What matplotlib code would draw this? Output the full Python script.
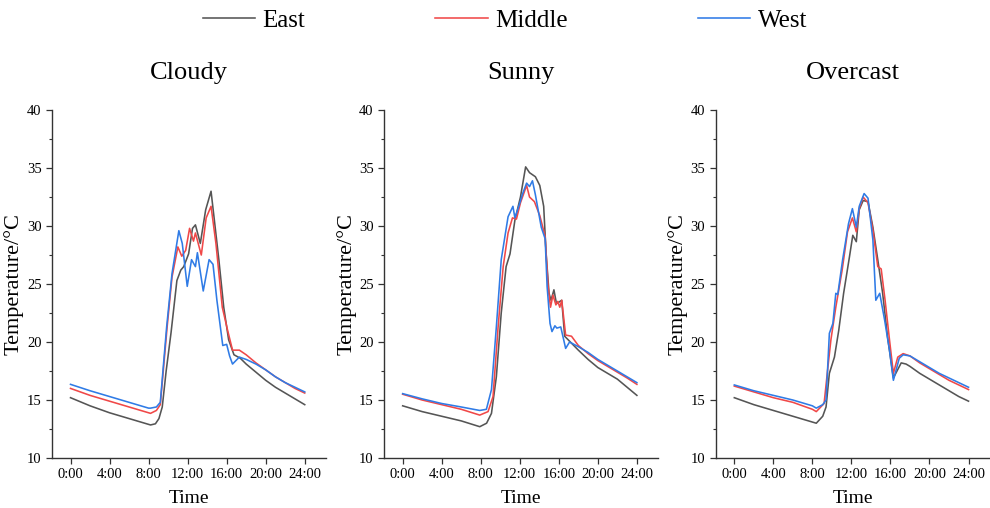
import matplotlib
matplotlib.use("Agg")
import matplotlib.pyplot as plt
from matplotlib.ticker import MultipleLocator, FixedLocator

plt.rcParams['font.family'] = ['Liberation Serif', 'DejaVu Serif']

# ---- data (hour of day, temperature in degC) ----
titles = ["Cloudy", "Sunny", "Overcast"]
series_names = ["East", "Middle", "West"]
tick_hours = [0, 4, 8, 12, 16, 20, 24]
tick_labels = ["0:00", "4:00", "8:00", "12:00", "16:00", "20:00", "24:00"]

# Cloudy
cloudy_east_t = [0, 2, 4, 6, 8, 8.2, 8.7, 9.06, 9.4, 9.8, 10.3, 10.9, 11.3, 11.6, 12.1, 12.5, 12.8, 13.3,
                 13.85, 14.4, 14.7, 15.2, 15.7, 16.2, 16.75, 17.4, 18, 19, 20, 21, 22, 23, 24]
cloudy_east = [15.2, 14.5, 13.9, 13.4, 12.9, 12.85, 12.95, 13.4, 14.4, 17.5, 20.8, 25.3, 26.2, 26.5, 27.6, 29.8,
               30.1, 28.5, 31.4, 33.0, 30.8, 27.1, 23.0, 20.2, 18.9, 18.6, 18.1, 17.4, 16.7, 16.1, 15.6, 15.1, 14.6]
cloudy_mid_t = [0, 2, 4, 6, 8, 8.2, 8.8, 9.2, 9.9, 10.4, 11.0, 11.4, 11.8, 12.2, 12.6, 12.8, 13.4, 13.9,
                14.4, 14.9, 15.55, 16.1, 16.6, 17.3, 18, 19, 19.5, 20, 21, 22, 23, 24]
cloudy_mid = [16.0, 15.4, 14.9, 14.4, 13.9, 13.85, 14.1, 14.6, 21.3, 25.6, 28.2, 27.4, 27.9, 29.8, 28.7, 29.4,
              27.5, 30.7, 31.7, 28.5, 23.0, 21.0, 19.3, 19.3, 18.9, 18.2, 17.9, 17.6, 17.0, 16.5, 16.0, 15.6]
cloudy_west_t = [0, 2, 4, 6, 8, 8.2, 8.8, 9.2, 9.85, 10.4, 11.1, 11.45, 11.96, 12.4, 12.8, 13.0, 13.6, 14.2,
                 14.6, 15.0, 15.6, 16.0, 16.3, 16.6, 17.3, 18, 19, 20, 21, 22, 23, 24]
cloudy_west = [16.35, 15.8, 15.3, 14.8, 14.3, 14.3, 14.4, 14.8, 21.3, 25.9, 29.6, 28.5, 24.8, 27.1, 26.5, 27.7,
               24.4, 27.1, 26.7, 23.6, 19.7, 19.8, 18.8, 18.1, 18.7, 18.5, 18.1, 17.6, 17.0, 16.5, 16.1, 15.7]

# Sunny
sunny_east_t = [0, 2, 4, 6, 7.9, 8.6, 9.1, 9.6, 10.1, 10.6, 11.0, 11.5, 12.07, 12.6, 13.0, 13.6, 14.05, 14.45,
                14.7, 15.0, 15.2, 15.5, 15.76, 16.3, 16.6, 17.3, 18, 19, 20, 21, 22, 23, 24]
sunny_east = [14.5, 14.0, 13.6, 13.2, 12.7, 13.0, 13.85, 17.0, 22.5, 26.5, 27.6, 30.5, 32.5, 35.1, 34.6, 34.25,
              33.5, 31.7, 27.6, 24.2, 23.6, 24.5, 23.3, 23.6, 20.5, 19.9, 19.3, 18.5, 17.8, 17.3, 16.8, 16.1, 15.4]
sunny_mid_t = [0, 2, 4, 6, 7.9, 8.75, 9.26, 9.78, 10.3, 10.8, 11.25, 11.66, 12.07, 12.7, 13.0, 13.5, 14.05,
               14.6, 14.9, 15.15, 15.4, 15.7, 15.9, 16.1, 16.3, 16.7, 17.3, 18, 19, 20, 21, 22, 23, 24]
sunny_mid = [15.5, 15.0, 14.6, 14.2, 13.7, 14.0, 15.3, 21.3, 26.5, 29.4, 30.7, 30.6, 32.0, 33.5, 32.5, 32.1,
             30.9, 29.1, 24.8, 23.0, 24.05, 23.2, 23.5, 23.0, 23.6, 20.6, 20.5, 19.7, 19.0, 18.4, 17.9, 17.4,
             16.9, 16.35]
sunny_west_t = [0, 2, 4, 6, 7.9, 8.58, 9.1, 9.6, 10.1, 10.8, 11.3, 11.5, 11.9, 12.3, 12.7, 13.0, 13.3, 13.6,
                14.2, 14.6, 14.8, 15.1, 15.3, 15.6, 15.8, 16.2, 16.7, 17.1, 18, 19, 20, 21, 22, 23, 24]
sunny_west = [15.55, 15.1, 14.7, 14.4, 14.1, 14.2, 15.9, 21.3, 27.1, 30.8, 31.7, 30.7, 31.7, 32.8, 33.7, 33.4,
              33.9, 32.7, 29.9, 28.9, 24.8, 21.6, 20.9, 21.4, 21.2, 21.3, 19.45, 20.0, 19.6, 19.1, 18.5, 18.0,
              17.5, 17.0, 16.5]

# Overcast
overcast_east_t = [0, 2, 4, 6, 8, 8.4, 9.06, 9.4, 9.74, 10.26, 10.7, 11.2, 11.8, 12.14, 12.5, 12.8, 13.2,
                   13.7, 14.2, 14.7, 15.2, 15.7, 16.3, 17.1, 17.6, 18, 19, 20, 21, 22, 23, 24]
overcast_east = [15.2, 14.6, 14.1, 13.6, 13.1, 13.0, 13.6, 14.4, 17.3, 18.7, 21.0, 24.2, 27.35, 29.2, 28.65,
                 31.4, 32.2, 32.1, 29.9, 27.1, 24.2, 20.45, 16.9, 18.2, 18.1, 17.9, 17.3, 16.8, 16.3, 15.8,
                 15.3, 14.9]
overcast_mid_t = [0, 2, 4, 6, 8, 8.4, 9.2, 9.6, 9.9, 10.4, 11.05, 11.6, 12.1, 12.5, 12.8, 13.2, 13.7, 14.2,
                  14.7, 15.05, 15.45, 15.9, 16.3, 16.75, 17.3, 18, 19, 20, 21, 22, 23, 24]
overcast_mid = [16.2, 15.7, 15.2, 14.8, 14.2, 14.0, 14.7, 17.9, 20.2, 23.0, 26.2, 29.5, 30.7, 29.5, 31.5, 32.5,
                32.0, 29.65, 26.5, 26.3, 23.6, 20.2, 17.3, 18.7, 19.0, 18.8, 18.2, 17.7, 17.2, 16.7, 16.3, 15.9]
overcast_west_t = [0, 2, 4, 6, 8, 8.4, 9.06, 9.4, 9.74, 10.1, 10.4, 10.6, 11.1, 11.7, 12.1, 12.5, 12.8, 13.3,
                   13.7, 14.2, 14.5, 14.9, 15.4, 15.9, 16.3, 16.9, 17.3, 18, 19, 20, 21, 22, 23, 24]
overcast_west = [16.3, 15.8, 15.4, 15.0, 14.5, 14.3, 14.6, 15.0, 20.75, 21.6, 24.2, 24.1, 27.1, 30.2, 31.5,
                 29.9, 31.7, 32.8, 32.4, 28.8, 23.6, 24.2, 21.9, 19.3, 16.7, 18.6, 18.9, 18.8, 18.3, 17.8, 17.3,
                 16.9, 16.5, 16.1]

panels = [
    [(cloudy_east_t, cloudy_east), (cloudy_mid_t, cloudy_mid), (cloudy_west_t, cloudy_west)],
    [(sunny_east_t, sunny_east), (sunny_mid_t, sunny_mid), (sunny_west_t, sunny_west)],
    [(overcast_east_t, overcast_east), (overcast_mid_t, overcast_mid), (overcast_west_t, overcast_west)],
]
colors = ["#555555", "#f04848", "#2f7be6"]

fig = plt.figure(figsize=(9.9, 5.08), dpi=100)
lefts = [0.0525, 0.388, 0.723]
handles = []
for i, (left, title, series) in enumerate(zip(lefts, titles, panels)):
    ax = fig.add_axes([left, 0.0984, 0.277, 0.685])
    for (t, v), c, name in zip(series, colors, series_names):
        ln, = ax.plot(t, v, color=c, lw=1.15, label=name)
        if i == 0:
            handles.append(ln)
    ax.set_xlim(-1.9, 26.2)
    ax.set_ylim(10, 40)
    ax.xaxis.set_major_locator(FixedLocator(tick_hours))
    ax.set_xticklabels(tick_labels)
    ax.yaxis.set_major_locator(MultipleLocator(5))
    ax.yaxis.set_minor_locator(MultipleLocator(2.5))
    for s in ["top", "right"]:
        ax.spines[s].set_visible(False)
    for s in ["left", "bottom"]:
        ax.spines[s].set_color("#333333")
        ax.spines[s].set_linewidth(1.0)
    ax.tick_params(axis="both", which="major", direction="out", length=4.5, width=0.9,
                   color="#333333", labelsize=10.5, pad=3)
    ax.tick_params(axis="y", which="minor", direction="out", length=2.5, width=0.8, color="#333333")
    ax.set_title(title, fontsize=19, pad=22)
    ax.set_xlabel("Time", fontsize=14, labelpad=6)
    ax.set_ylabel("Temperature/°C", fontsize=16, labelpad=2)

fig.legend(handles, series_names, loc="center", bbox_to_anchor=(0.51, 0.96), ncol=3, frameon=False,
           fontsize=18, handlelength=2.1, handletextpad=0.3, columnspacing=5.2)

fig.savefig("out.png", dpi=100)
